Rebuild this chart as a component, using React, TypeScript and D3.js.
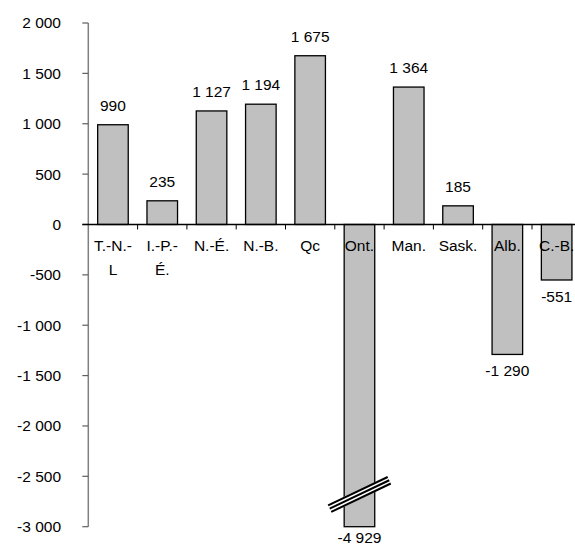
import React from "react";
import * as d3 from "d3";

const categories = ["T.-N.-L", "I.-P.-É.", "N.-É.", "N.-B.", "Qc", "Ont.", "Man.", "Sask.", "Alb.", "C.-B."];
const labelLines = [["T.-N.-", "L"], ["I.-P.-", "É."], ["N.-É."], ["N.-B."], ["Qc"], ["Ont."], ["Man."], ["Sask."], ["Alb."], ["C.-B."]];
const values = [990, 235, 1127, 1194, 1675, -4929, 1364, 185, -1290, -551];
const yTicks = [2000, 1500, 1000, 500, 0, -500, -1000, -1500, -2000, -2500, -3000];

const W = 575;
const H = 545;
const FONT = "Arial, 'Liberation Sans', sans-serif";
const FS = 15.5;

const locale = d3.formatLocale({ decimal: ",", thousands: " ", grouping: [3], currency: ["", " $"], minus: "-" });
const fmt = locale.format(",d");

export default function App() {
  const x0 = 88.3;
  const x = d3.scaleBand<string>().domain(categories).range([x0, x0 + 493]).paddingInner(0.38).paddingOuter(0.19);
  const y = d3.scaleLinear().domain([-3000, 2000]).range([526.7, 23]).clamp(true);
  const y0 = y(0);
  const step = x.step();

  const ontIdx = categories.indexOf("Ont.");
  const ontCx = (x(categories[ontIdx]) as number) + x.bandwidth() / 2;
  const breakCy = y(-2680);
  const ang = Math.atan2(-31, 65);
  const half = 33;
  const dx = Math.cos(ang) * half, dy = Math.sin(ang) * half;
  const px = -Math.sin(ang), py = Math.cos(ang);

  return (
    <svg width={W} height={H} style={{ position: "absolute", left: 0, top: 0, background: "#fff" }} fontFamily={FONT} fontSize={FS}>
      {/* y axis */}
      <line x1={x0} x2={x0} y1={y(2000)} y2={y(-3000)} stroke="#808080" strokeWidth={1.5} />
      {yTicks.map((t) => (
        <g key={t}>
          <line x1={x0 - 6} x2={x0} y1={y(t)} y2={y(t)} stroke="#606060" strokeWidth={1.2} />
          <text x={61} y={y(t)} dy="0.35em" textAnchor="end" fill="#000">{fmt(t)}</text>
        </g>
      ))}
      {/* bars */}
      {values.map((v, i) => {
        const bx = x(categories[i]) as number;
        const top = y(Math.max(v, 0));
        const bot = y(Math.min(v, 0));
        return (
          <rect key={i} x={bx} y={top} width={x.bandwidth()} height={bot - top} fill="#c0c0c0" stroke="#000" strokeWidth={1.3} />
        );
      })}
      {/* x axis */}
      <line x1={x0 - 6} x2={W} y1={y0} y2={y0} stroke="#000" strokeWidth={1.3} />
      {categories.map((c, i) => (
        <line key={c} x1={x0 + step * (i + 1)} x2={x0 + step * (i + 1)} y1={y0} y2={y0 + 5} stroke="#000" strokeWidth={1} />
      ))}
      {/* category labels */}
      {labelLines.map((lines, i) => {
        const cx = (x(categories[i]) as number) + x.bandwidth() / 2;
        return (
          <text key={i} x={cx} y={y0 + 27} textAnchor="middle" fill="#000">
            {lines.map((l, j) => (
              <tspan key={j} x={cx} dy={j === 0 ? 0 : 24}>{l}</tspan>
            ))}
          </text>
        );
      })}
      {/* value labels */}
      {values.map((v, i) => {
        const cx = (x(categories[i]) as number) + x.bandwidth() / 2;
        const ly = v >= 0 ? y(v) - 14 : Math.min(y(v) + 22, 543);
        return (
          <text key={i} x={cx} y={ly} textAnchor="middle" fill="#000">{fmt(v)}</text>
        );
      })}
      {/* break mark on Ont. bar */}
      <g>
        <line x1={ontCx - dx} y1={breakCy - dy} x2={ontCx + dx} y2={breakCy + dy} stroke="#fff" strokeWidth={9} />
        {[-3.6, 0, 3.6].map((o) => (
          <line key={o} x1={ontCx - dx + px * o} y1={breakCy - dy + py * o} x2={ontCx + dx + px * o} y2={breakCy + dy + py * o} stroke="#000" strokeWidth={2} />
        ))}
      </g>
    </svg>
  );
}
